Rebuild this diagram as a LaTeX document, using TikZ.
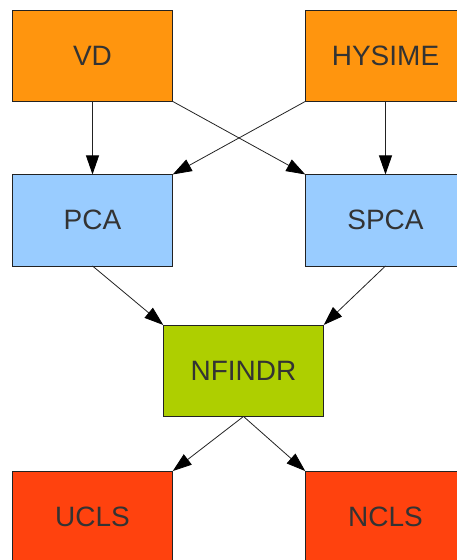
\documentclass[tikz,border=0pt]{standalone}
\usepackage{fontspec}
\setmainfont{Liberation Sans}
\usetikzlibrary{arrows.meta}
\definecolor{boxorange}{HTML}{FF950E}
\definecolor{boxblue}{HTML}{99CCFF}
\definecolor{boxgreen}{HTML}{AECF00}
\definecolor{boxred}{HTML}{FF420E}
\definecolor{labelgray}{HTML}{333333}
\definecolor{edgegray}{HTML}{222222}
\tikzset{
  stage/.style={draw=edgegray, line width=0.9pt, minimum width=160.5pt,
    minimum height=91.5pt, inner sep=0pt, outer sep=0pt,
    text=labelgray, font=\fontsize{28}{32}\selectfont},
  flow/.style={draw=edgegray, line width=0.8pt,
    -{Triangle[length=19pt,width=13pt,fill=black,color=black]}},
}
\begin{document}
\begin{tikzpicture}[x=1pt, y=-1pt]
\useasboundingbox (0,0) rectangle (457,560);
\clip (0,0) rectangle (457,560);
% source estimators
\node[stage, fill=boxorange] (vd)     at (92.5,55.7)  {VD};
\node[stage, fill=boxorange] (hysime) at (385.5,55.7) {HYSIME};
% dimensionality reduction
\node[stage, fill=boxblue]   (pca)    at (92.5,220.2)  {PCA};
\node[stage, fill=boxblue]   (spca)   at (385.5,220.2) {SPCA};
% endmember extraction
\node[stage, fill=boxgreen]  (nfindr) at (243.5,370.7) {NFINDR};
% abundance estimation
\node[stage, fill=boxred]    (ucls)   at (92.5,516.8)  {UCLS};
\node[stage, fill=boxred]    (ncls)   at (385.5,516.8) {NCLS};
% connectors
\draw[flow] (vd.south) -- (pca.north);
\draw[flow] (vd.south east) -- (spca.north west);
\draw[flow] (hysime.south west) -- (pca.north east);
\draw[flow] (hysime.south) -- (spca.north);
\draw[flow] (pca.south) -- (nfindr.north west);
\draw[flow] (spca.south) -- (nfindr.north east);
\draw[flow] (nfindr.south) -- (ucls.north east);
\draw[flow] (nfindr.south) -- (ncls.north west);
\end{tikzpicture}
\end{document}
